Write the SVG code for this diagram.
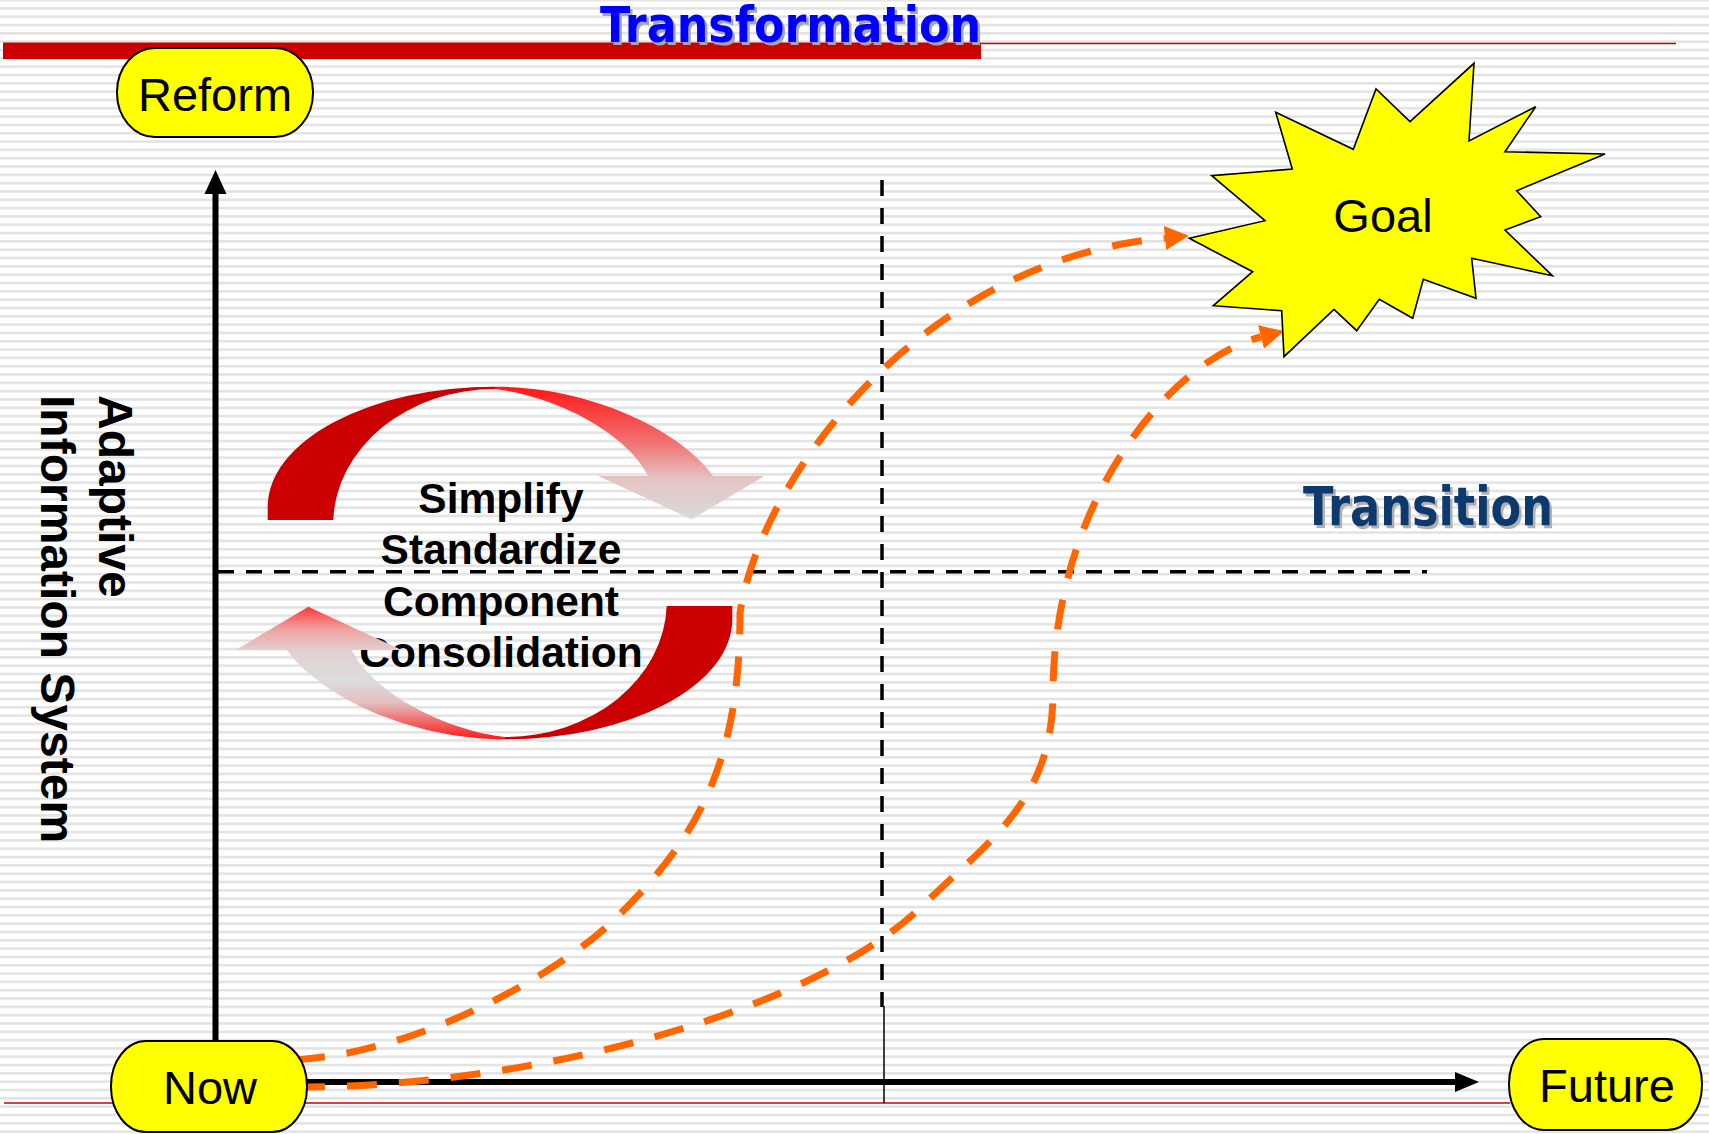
<svg xmlns="http://www.w3.org/2000/svg" width="1709" height="1134" viewBox="0 0 1709 1134">
<style>
.pill{fill:#ffff00;stroke:#000;stroke-width:2}
.lbl{font-family:"Liberation Sans",Arial,sans-serif;font-size:47px;fill:#000;text-anchor:middle}
.bold{font-family:"Liberation Sans",Arial,sans-serif;font-weight:bold;fill:#000}
.title{font-family:"DejaVu Sans Condensed","DejaVu Sans",sans-serif;font-weight:bold}
.grid{fill:none;stroke:#000;stroke-width:3.5;stroke-dasharray:16 12}
.orange{fill:none;stroke:#ff6600;stroke-width:7;stroke-dasharray:30 22;marker-end:url(#ah)}
.axis{stroke:#000;stroke-width:6;fill:none}
.thinred{stroke:#cc0000;stroke-width:1.4;fill:none}
</style>
<defs>
<pattern id="stripes" patternUnits="userSpaceOnUse" x="0" y="-1.2" width="20" height="8.32">
<rect width="20" height="8.32" fill="#ffffff"/>
<rect width="20" height="2.6" fill="#e3e3e3"/>
</pattern>
<linearGradient id="fade" gradientUnits="userSpaceOnUse" x1="0" y1="386" x2="0" y2="519">
<stop offset="0" stop-color="#ff1515"/>
<stop offset="0.45" stop-color="#f07878"/>
<stop offset="0.7" stop-color="#e4c4c4"/>
<stop offset="1" stop-color="#dadada"/>
</linearGradient>
<linearGradient id="fade2" gradientUnits="userSpaceOnUse" x1="0" y1="386" x2="0" y2="520">
<stop offset="0" stop-color="#ff1515"/>
<stop offset="0.15" stop-color="#f07070"/>
<stop offset="0.28" stop-color="#e4c0c0"/>
<stop offset="0.45" stop-color="#dcdcdc"/>
<stop offset="0.67" stop-color="#e2cfcf"/>
<stop offset="0.83" stop-color="#f0a0a0"/>
<stop offset="1" stop-color="#ff3535"/>
</linearGradient>
<marker id="ah" markerUnits="userSpaceOnUse" viewBox="0 0 24 24" markerWidth="24" markerHeight="24" refX="0" refY="12" orient="auto">
<path d="M0,0 L24,12 L0,24 Z" fill="#ff6600"/>
</marker>
<path id="crescent" d="M267.7,520 L267.7,507 A227.3,120.2 0 0 1 495,386.7 L495,389 A161.7,135.4 0 0 0 333.3,520 Z" fill="#cc0000"/>
<path id="band" d="M495,386.7 C590,386.7 680,430 713.3,476 L764.3,476 L691.7,519.3 L598.3,476 L648.3,476 C625,430 550,395 495,389 Z"/>
</defs>

<rect id="background" x="0" y="0" width="1709" height="1134" fill="url(#stripes)"/>

<g id="frame-lines">
<rect x="3" y="42.5" width="978" height="16.5" fill="#cc0000"/>
<line class="thinred" x1="981" y1="43.5" x2="1676" y2="43.5"/>
<line class="thinred" x1="4" y1="1103" x2="1510" y2="1103"/>
</g>

<g id="title-transformation">
<text class="title" x="602.5" y="44.5" font-size="49" textLength="381" lengthAdjust="spacingAndGlyphs" fill="#a6a6a6">Transformation</text>
<text class="title" x="600" y="42" font-size="49" textLength="381" lengthAdjust="spacingAndGlyphs" fill="#0000ff">Transformation</text>
</g>

<g id="title-transition">
<text class="title" x="1305.5" y="527.5" font-size="54" textLength="250" lengthAdjust="spacingAndGlyphs" fill="#b0b0b0">Transition</text>
<text class="title" x="1303" y="525" font-size="54" textLength="250" lengthAdjust="spacingAndGlyphs" fill="#0d3a6e">Transition</text>
</g>

<g id="grid-lines">
<line class="grid" x1="218" y1="571.7" x2="1427" y2="571.7"/>
<line class="grid" x1="882" y1="180" x2="882" y2="1007"/>
<line x1="884" y1="1006" x2="884" y2="1103" stroke="#000" stroke-width="1.5"/>
</g>

<g id="y-axis">
<line class="axis" x1="215.5" y1="1045" x2="215.5" y2="190"/>
<polygon points="215.5,170 204.5,194 226.5,194" fill="#000"/>
</g>
<g id="x-axis">
<line class="axis" x1="300" y1="1082" x2="1458" y2="1082"/>
<polygon points="1479,1082 1455,1072 1455,1092" fill="#000"/>
</g>

<g id="y-axis-label">
<text class="bold" font-size="48" transform="translate(99,395) rotate(90)">Adaptive</text>
<text class="bold" font-size="48" transform="translate(41,395) rotate(90)">Information System</text>
</g>

<g id="cycle-upper">
<use href="#crescent"/>
<use href="#band" fill="url(#fade)"/>
</g>

<g id="cycle-text">
<text class="bold" font-size="42.5" text-anchor="middle" x="501" y="513">Simplify</text>
<text class="bold" font-size="42.5" text-anchor="middle" x="501" y="564">Standardize</text>
<text class="bold" font-size="42.5" text-anchor="middle" x="501" y="616">Component</text>
<text class="bold" font-size="42.5" text-anchor="middle" x="501" y="667">Consolidation</text>
</g>

<g id="cycle-lower" transform="rotate(180 500 563)">
<use href="#crescent"/>
<use href="#band" fill="url(#fade2)"/>
</g>

<g id="connectors">
<path class="orange" stroke-dashoffset="42" d="M285,1060 L305,1059 C420,1050 560,975 619,915 C700,835 740,760 740,613 C760,480 920,260 1165,238"/>
<path class="orange" stroke-dashoffset="42" d="M285,1087 L308,1087 C550,1085 820,1005 920,908 C990,840 1054,800 1053,690 C1055,500 1170,360 1261,337"/>
</g>

<g id="goal">
<polygon points="1189.3,238.3 1265,220.7 1211.7,175.7 1292.3,169 1275.7,112.3 1353.3,149.3 1376,89 1410,121.7 1474,63.3 1469,141 1535.7,106.7 1505,151.7 1605,154 1516.7,190.7 1540.7,216.7 1505,230 1552.3,275.7 1471.7,258.3 1476,298.3 1423.3,279.3 1412.7,318.3 1379.3,299.3 1356.7,330.7 1334,309.3 1284,356.7 1281.7,310.7 1213.3,305.7 1252.7,271.7" fill="#ffff00" stroke="#000" stroke-width="1.6" stroke-linejoin="miter"/>
<text class="lbl" font-size="46" x="1383" y="232">Goal</text>
</g>

<g id="reform">
<rect class="pill" x="117" y="48" width="196" height="89" rx="38" ry="44"/>
<text class="lbl" x="215" y="111">Reform</text>
</g>

<g id="now">
<rect class="pill" x="111" y="1041" width="196" height="91" rx="35" ry="45"/>
<text class="lbl" x="210" y="1104">Now</text>
</g>

<g id="future">
<rect class="pill" x="1509" y="1039" width="193" height="91" rx="35" ry="45"/>
<text class="lbl" x="1607" y="1102">Future</text>
</g>
</svg>
